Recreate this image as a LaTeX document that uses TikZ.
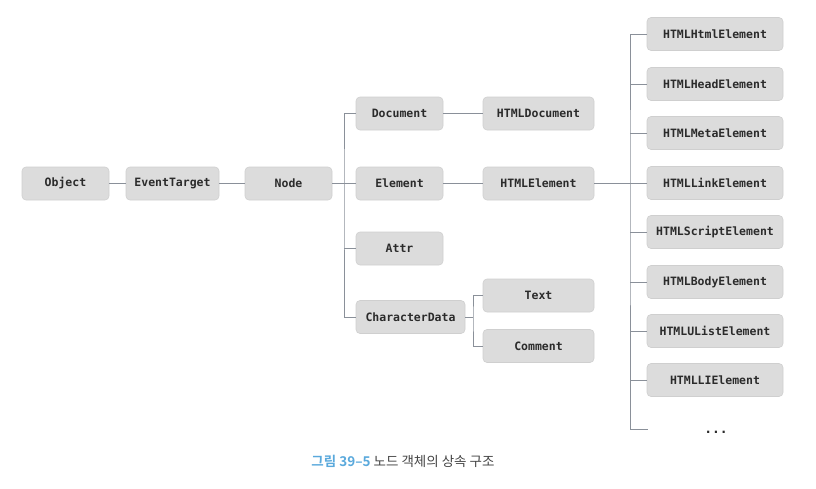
\documentclass[tikz,border=0pt]{standalone}
\usepackage{fontspec}
\setmonofont{DejaVu Sans Mono}
\newfontfamily\krfont{Noto Sans CJK KR}
\newfontfamily\krbold{Noto Sans CJK KR Bold}
\definecolor{boxfill}{HTML}{DCDCDC}
\definecolor{boxline}{HTML}{CFCFCF}
\definecolor{wire}{HTML}{8A9099}
\definecolor{labeltext}{HTML}{2B2B2B}
\definecolor{capblue}{HTML}{5AA9DC}
\definecolor{capgray}{HTML}{444444}
\tikzset{
  cls/.style={draw=boxline, line width=0.6pt, fill=boxfill, rounded corners=4pt,
    minimum height=33pt, inner sep=0pt, text=labeltext,
    font=\ttfamily\bfseries\fontsize{11.5}{13}\selectfont},
  link/.style={draw=wire, line width=0.8pt},
}
\begin{document}
\begin{tikzpicture}[x=1pt,y=-1pt]
\useasboundingbox (0,0) rectangle (816,488);

% root chain
\node[cls, minimum width=87pt]  (object) at (65.5,183.5) {Object};
\node[cls, minimum width=93pt]  (evt)    at (172.5,183.5) {EventTarget};
\node[cls, minimum width=87pt]  (node)   at (288.5,183.5) {Node};

% Node subclasses
\node[cls, minimum width=87pt]  (document) at (399.5,113.5) {Document};
\node[cls, minimum width=87pt]  (element)  at (399.5,183.5) {Element};
\node[cls, minimum width=87pt]  (attr)     at (399.5,248.5) {Attr};
\node[cls, minimum width=109pt] (chardata) at (410.5,317)   {CharacterData};

% second level
\node[cls, minimum width=111pt] (htmldoc)  at (538.5,113.5) {HTMLDocument};
\node[cls, minimum width=111pt] (htmlel)   at (538.5,183.5) {HTMLElement};
\node[cls, minimum width=111pt] (text)     at (538.5,295.5) {Text};
\node[cls, minimum width=111pt] (comment)  at (538.5,346)   {Comment};

% HTMLElement subclasses
\node[cls, minimum width=136pt] (e1) at (715,34)  {HTMLHtmlElement};
\node[cls, minimum width=136pt] (e2) at (715,84)  {HTMLHeadElement};
\node[cls, minimum width=136pt] (e3) at (715,133) {HTMLMetaElement};
\node[cls, minimum width=136pt] (e4) at (715,183) {HTMLLinkElement};
\node[cls, minimum width=136pt] (e5) at (715,232) {HTMLScriptElement};
\node[cls, minimum width=136pt] (e6) at (715,282) {HTMLBodyElement};
\node[cls, minimum width=136pt] (e7) at (715,331) {HTMLUListElement};
\node[cls, minimum width=136pt] (e8) at (715,380) {HTMLLIElement};
\node[text=labeltext, font=\ttfamily\bfseries\fontsize{13}{14}\selectfont] (more) at (716,432) {...};

% branch points
\coordinate (nb) at (344,183.5);
\coordinate (cb) at (473,317);
\coordinate (hb) at (630,183.5);
\coordinate (moreend) at (648,429);

% connectors
\draw[link] (object) -- (evt);
\draw[link] (evt) -- (node);
\draw[link] (node) -- (nb);
\draw[link] (document.west) -| (nb) |- (chardata.west);
\draw[link] (element.west) -- (nb);
\draw[link] (attr.west) -- (nb |- attr.west);
\draw[link] (document) -- (htmldoc);
\draw[link] (element) -- (htmlel);
\draw[link] (chardata) -- (cb);
\draw[link] (text.west) -| (cb) |- (comment.west);
\draw[link] (htmlel) -- (hb);
\draw[link] (e1.west) -| (hb) |- (moreend);
\foreach \e in {e2,e3,e4,e5,e6,e7,e8} \draw[link] (\e.west) -- (hb |- \e.west);

% caption
\node[font=\krfont\fontsize{13.5}{16}\selectfont, anchor=center] (caption) at (403,461)
  {\textcolor{capblue}{\krbold 그림 39–5} \textcolor{capgray}{노드 객체의 상속 구조}};
\end{tikzpicture}
\end{document}
